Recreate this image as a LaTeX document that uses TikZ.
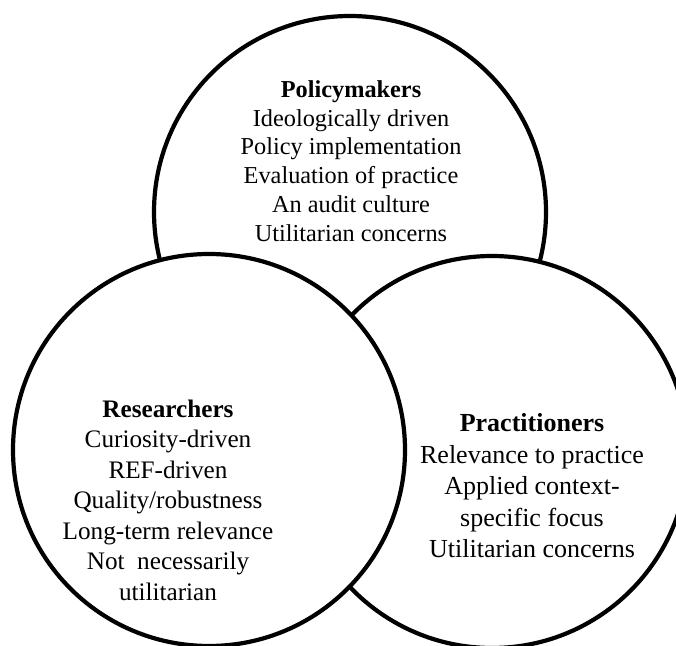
\documentclass[tikz,border=0pt]{standalone}
\usepackage{fontspec}
\setmainfont{Liberation Serif}

\begin{document}
\begin{tikzpicture}[x=1pt, y=1pt,
    venn/.style={draw=black, fill=white, line width=4.2pt},
    topic/.style={align=center, inner sep=0pt}]
    \useasboundingbox (0,0) rectangle (676,645);
    \clip (0,0) rectangle (676,645);

    \draw[venn] (350,433) circle (196pt);
    \draw[venn] (492,193) circle (196pt);
    \draw[venn] (209,195) circle (196pt);

    \node[topic, font=\fontsize{24.3}{28.7}\selectfont] (policy) at (351,484)
        {\textbf{Policymakers}\\Ideologically driven\\Policy implementation\\Evaluation of practice\\An audit culture\\Utilitarian concerns};
    \node[topic, font=\fontsize{25.2}{30.5}\selectfont] (research) at (168,145)
        {\textbf{Researchers}\\Curiosity-driven\\REF-driven\\Quality/robustness\\Long-term relevance\\Not~~necessarily\\utilitarian};
    \node[topic, font=\fontsize{26}{31.5}\selectfont] (practice) at (532,159)
        {\textbf{Practitioners}\\Relevance to practice\\Applied context-\\specific focus\\Utilitarian concerns};
\end{tikzpicture}
\end{document}
